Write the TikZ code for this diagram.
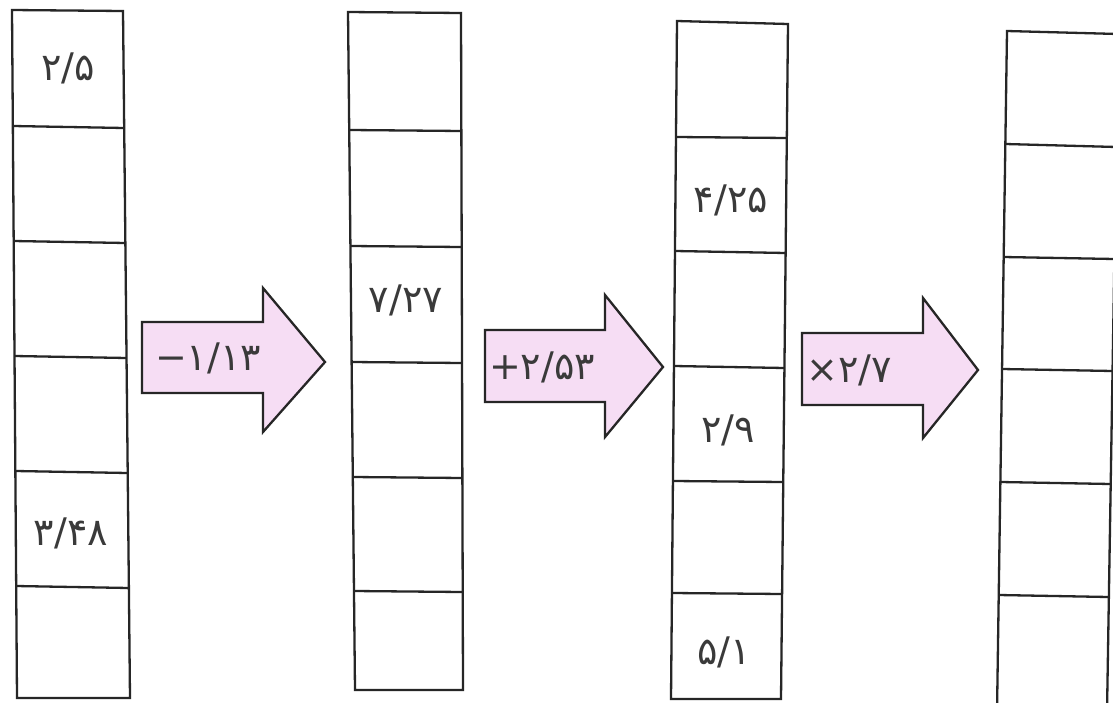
\documentclass[tikz,border=0pt]{standalone}
\usepackage{fontspec}
\newfontfamily\fadigits{DejaVu Sans}
\usetikzlibrary{calc}
\definecolor{arrowpink}{RGB}{246,221,244}
\definecolor{ink}{RGB}{38,38,38}
\definecolor{txt}{RGB}{58,58,58}
\begin{document}
\begin{tikzpicture}[x=1pt,y=-1pt,
  cellline/.style={draw=ink,line width=2.3pt,line join=miter},
  celltext/.style={font=\fadigits\fontsize{38}{42}\selectfont,text=txt,inner sep=0pt},
  oparrow/.style={draw=ink,line width=2.3pt,fill=arrowpink,line join=miter}]
\useasboundingbox (0,0) rectangle (1113,702);
\fill[white] (0,0) rectangle (1113,702);
% column 1
\coordinate (c1tl) at (12,10);  \coordinate (c1tr) at (123,11);
\coordinate (c1bl) at (17,698); \coordinate (c1br) at (130,698);
\draw[cellline] (c1tl) -- (c1tr) -- (c1br) -- (c1bl) -- cycle;
\foreach \yl/\yr in {126/128,241/243,356/358,471/473,586/588}
  \draw[cellline] ($(c1tl)!{(\yl-10)/688}!(c1bl)$) -- ($(c1tr)!{(\yr-11)/687}!(c1br)$);
% column 2
\coordinate (c2tl) at (348,12);  \coordinate (c2tr) at (461,13);
\coordinate (c2bl) at (355,690); \coordinate (c2br) at (463,690);
\draw[cellline] (c2tl) -- (c2tr) -- (c2br) -- (c2bl) -- cycle;
\foreach \yl/\yr in {130/131,246/247,362/363,477/478,591/592}
  \draw[cellline] ($(c2tl)!{(\yl-12)/678}!(c2bl)$) -- ($(c2tr)!{(\yr-13)/677}!(c2br)$);
% column 3
\coordinate (c3tl) at (677,21);  \coordinate (c3tr) at (788,24);
\coordinate (c3bl) at (671,699); \coordinate (c3br) at (781,699);
\draw[cellline] (c3tl) -- (c3tr) -- (c3br) -- (c3bl) -- cycle;
\foreach \yl/\yr in {137/138,251/253,366/368,481/482,593/594}
  \draw[cellline] ($(c3tl)!{(\yl-21)/678}!(c3bl)$) -- ($(c3tr)!{(\yr-24)/675}!(c3br)$);
% column 4
\coordinate (c4tl) at (1007,31);  \coordinate (c4tr) at (1118,34);
\coordinate (c4bl) at (997,712);  \coordinate (c4br) at (1107,712);
\draw[cellline] (c4tl) -- (c4tr) -- (c4br) -- (c4bl) -- cycle;
\foreach \yl/\yr in {144/147,257/259,369/371,482/484,595/597}
  \draw[cellline] ($(c4tl)!{(\yl-31)/681}!(c4bl)$) -- ($(c4tr)!{(\yr-34)/678}!(c4br)$);
% arrows
\draw[oparrow] (142,322) -- (263,322) -- (263,288) -- (325,362) -- (263,432) -- (263,393) -- (142,393) -- cycle;
\draw[oparrow] (485,330) -- (605,330) -- (605,295) -- (663,367) -- (605,437) -- (605,402) -- (485,402) -- cycle;
\draw[oparrow] (802,333) -- (923,333) -- (923,298) -- (978,370) -- (923,438) -- (923,405) -- (802,405) -- cycle;
% operation labels
\node[celltext] (op1) at (208,358) {−۱/۱۳};
\node[celltext] (op2) at (542,367) {+۲/۵۳};
\node[celltext] (op3) at (849,370) {×۲/۷};
% cell values
\node[celltext] (v1a) at (68,68) {۲/۵};
\node[celltext] (v1f) at (71,533) {۳/۴۸};
\node[celltext] (v2c) at (406,300) {۷/۲۷};
\node[celltext] (v3b) at (731,200) {۴/۲۵};
\node[celltext] (v3d) at (728,430) {۲/۹};
\node[celltext] (v3f) at (724,652) {۵/۱};
\end{tikzpicture}
\end{document}
